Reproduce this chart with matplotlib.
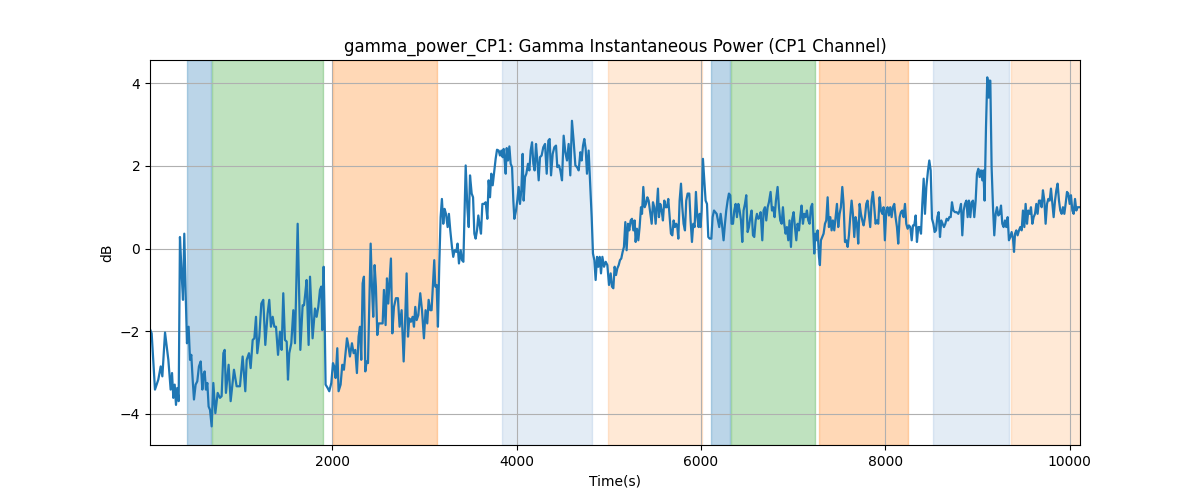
import numpy as np
import matplotlib
matplotlib.use("Agg")
import matplotlib.pyplot as plt

# time (s) and gamma power (dB)
t = [22, 40, 76, 112, 138, 156, 185, 221, 246, 261, 275, 290, 304, 318, 333, 347, 365, 380, 394, 409,
     423, 441, 456, 470, 485, 499, 517, 535, 553, 572, 590, 601, 615, 629, 644, 658, 673, 691, 709, 731,
     756, 781, 799, 818, 832, 846, 875, 897, 933, 962, 998, 1027, 1056, 1071, 1096, 1114, 1136, 1154, 1172, 1186,
     1208, 1230, 1251, 1273, 1298, 1316, 1334, 1353, 1371, 1389, 1411, 1432, 1450, 1468, 1486, 1505, 1519, 1533, 1555, 1577,
     1595, 1624, 1653, 1678, 1693, 1707, 1721, 1743, 1758, 1786, 1812, 1830, 1848, 1866, 1880, 1891, 1906, 1917, 1927, 1949,
     1967, 1989, 2007, 2021, 2036, 2054, 2068, 2090, 2108, 2126, 2144, 2159, 2173, 2191, 2213, 2231, 2249, 2267, 2285, 2300,
     2314, 2329, 2343, 2358, 2372, 2387, 2401, 2416, 2430, 2444, 2459, 2473, 2488, 2502, 2524, 2546, 2560, 2578, 2593, 2607,
     2622, 2636, 2651, 2669, 2690, 2712, 2730, 2752, 2774, 2788, 2806, 2821, 2835, 2853, 2871, 2886, 2900, 2915, 2933, 2954,
     2973, 2994, 3012, 3030, 3045, 3063, 3077, 3092, 3106, 3117, 3132, 3146, 3160, 3175, 3189, 3204, 3218, 3233, 3251, 3265,
     3280, 3298, 3312, 3327, 3345, 3359, 3374, 3393, 3407, 3422, 3447, 3465, 3480, 3494, 3512, 3527, 3541, 3555, 3570, 3584,
     3599, 3613, 3628, 3646, 3664, 3682, 3696, 3711, 3725, 3740, 3758, 3772, 3787, 3805, 3819, 3834, 3848, 3859, 3870, 3881,
     3892, 3906, 3921, 3935, 3950, 3964, 3975, 3993, 4007, 4022, 4036, 4051, 4065, 4076, 4091, 4105, 4123, 4138, 4152, 4167,
     4181, 4195, 4210, 4224, 4239, 4253, 4271, 4289, 4308, 4326, 4344, 4358, 4373, 4391, 4409, 4427, 4441, 4459, 4474, 4492,
     4510, 4528, 4546, 4564, 4582, 4600, 4618, 4637, 4655, 4673, 4691, 4705, 4720, 4734, 4749, 4763, 4781, 4799, 4814, 4828,
     4843, 4857, 4872, 4886, 4901, 4915, 4930, 4948, 4966, 4984, 5002, 5020, 5034, 5049, 5063, 5078, 5092, 5107, 5121, 5135,
     5150, 5164, 5179, 5193, 5208, 5222, 5237, 5251, 5266, 5280, 5291, 5305, 5320, 5334, 5349, 5360, 5374, 5389, 5403, 5418,
     5432, 5446, 5465, 5479, 5493, 5508, 5522, 5533, 5544, 5558, 5573, 5587, 5602, 5616, 5631, 5645, 5660, 5674, 5689, 5703,
     5718, 5732, 5743, 5754, 5768, 5783, 5797, 5811, 5826, 5840, 5855, 5873, 5887, 5902, 5916, 5931, 5945, 5960, 5974, 5985,
     5996, 6007, 6021, 6036, 6050, 6065, 6079, 6094, 6112, 6126, 6141, 6155, 6170, 6184, 6198, 6213, 6227, 6245, 6260, 6274,
     6289, 6303, 6318, 6332, 6347, 6361, 6376, 6390, 6405, 6419, 6434, 6448, 6462, 6477, 6491, 6506, 6520, 6535, 6549, 6564,
     6578, 6593, 6607, 6622, 6636, 6647, 6665, 6679, 6694, 6708, 6723, 6737, 6755, 6770, 6784, 6799, 6813, 6831, 6846, 6860,
     6875, 6889, 6903, 6918, 6932, 6947, 6961, 6976, 6990, 7005, 7019, 7034, 7048, 7063, 7077, 7091, 7106, 7120, 7135, 7149,
     7164, 7178, 7193, 7207, 7218, 7229, 7240, 7251, 7265, 7280, 7290, 7301, 7316, 7330, 7345, 7359, 7374, 7388, 7403, 7417,
     7431, 7446, 7460, 7475, 7489, 7504, 7518, 7533, 7547, 7562, 7576, 7591, 7605, 7619, 7634, 7648, 7663, 7677, 7692, 7706,
     7721, 7735, 7750, 7764, 7779, 7793, 7807, 7822, 7836, 7851, 7865, 7880, 7894, 7909, 7923, 7938, 7952, 7967, 7981, 7995,
     8010, 8024, 8039, 8053, 8068, 8082, 8097, 8111, 8126, 8140, 8155, 8169, 8184, 8198, 8213, 8227, 8242, 8256, 8271, 8286,
     8300, 8314, 8329, 8343, 8358, 8372, 8387, 8401, 8416, 8430, 8445, 8463, 8477, 8492, 8506, 8521, 8535, 8550, 8564, 8578,
     8593, 8607, 8622, 8636, 8651, 8665, 8680, 8694, 8709, 8723, 8738, 8756, 8774, 8792, 8806, 8821, 8835, 8850, 8864, 8879,
     8893, 8907, 8922, 8936, 8951, 8965, 8980, 8994, 9009, 9023, 9038, 9052, 9063, 9077, 9092, 9106, 9121, 9128, 9139, 9153,
     9168, 9182, 9197, 9211, 9226, 9240, 9255, 9269, 9283, 9298, 9312, 9327, 9341, 9356, 9370, 9385, 9396, 9407, 9421, 9435,
     9450, 9464, 9479, 9493, 9508, 9522, 9537, 9551, 9566, 9580, 9595, 9609, 9624, 9638, 9652, 9667, 9681, 9696, 9710, 9725,
     9739, 9754, 9768, 9783, 9797, 9812, 9826, 9841, 9855, 9869, 9884, 9898, 9913, 9927, 9942, 9956, 9971, 9985, 10000, 10014,
     10029, 10043, 10058, 10072, 10086, 10101, 10112]

power = [-1.95, -2.05, -3.41, -3.17, -2.85, -3.09, -2.03, -2.69, -3.41, -3.01, -3.61, -3.29, -3.78, -3.37, -3.69, 0.28, -0.60, -1.24, 0.36, -1.08,
         -2.29, -1.89, -2.69, -2.57, -3.17, -3.65, -3.29, -3.21, -2.85, -2.73, -3.41, -3.05, -2.97, -3.41, -3.25, -3.82, -3.90, -4.30, -3.25, -3.98,
         -3.49, -3.61, -3.57, -2.53, -2.45, -3.49, -2.81, -3.69, -2.93, -3.33, -3.33, -2.61, -3.45, -2.69, -2.53, -2.89, -2.21, -2.17, -1.65, -2.53,
         -2.13, -1.33, -1.24, -2.33, -1.57, -1.24, -1.89, -1.65, -1.89, -1.89, -2.57, -2.01, -2.45, -1.08, -2.21, -2.25, -3.17, -2.53, -2.29, -1.49,
         -2.29, 0.60, -2.45, -1.37, -1.37, -1.08, -0.76, -2.33, -0.68, -2.17, -1.45, -1.65, -1.41, -1.00, -0.92, -1.97, -0.44, -1.73, -3.29, -3.37,
         -3.45, -3.25, -2.77, -2.85, -3.13, -2.41, -3.45, -3.29, -2.81, -2.93, -2.53, -2.17, -2.33, -2.61, -2.29, -2.53, -2.45, -3.01, -2.13, -1.89,
         -2.69, -0.84, -0.68, -2.97, -2.73, -2.77, -1.41, 0.12, -0.92, -1.65, -0.40, -0.92, -2.09, -1.81, -1.81, -1.81, -1.00, -1.85, -0.72, -1.33,
         -0.76, -0.24, -2.05, -1.41, -1.20, -1.20, -1.89, -1.49, -2.73, -1.89, -0.60, -2.13, -1.69, -1.77, -1.65, -1.89, -1.41, -1.73, -1.61, -1.08,
         -1.49, -2.17, -1.49, -1.81, -1.24, -1.49, -1.49, -0.84, -0.28, -0.92, -0.88, -1.89, -0.44, 0.76, 1.20, 0.60, 0.96, 0.84, 0.52, 0.84,
         0.44, 0.04, -0.20, -0.04, -0.08, 0.12, -0.36, -0.04, -0.28, -0.32, 2.01, 1.00, 0.52, 1.77, 1.33, 1.24, 0.36, 0.24, 0.44, 0.80,
         0.56, 0.36, 1.08, 1.08, 1.12, 0.72, 1.65, 1.24, 1.81, 1.53, 1.89, 2.17, 2.39, 2.37, 2.25, 2.37, 2.21, 2.41, 2.13, 1.81,
         2.43, 2.13, 2.47, 2.05, 1.97, 1.16, 0.72, 0.92, 1.16, 1.49, 1.08, 1.41, 2.29, 1.16, 1.73, 1.81, 2.05, 1.89, 2.37, 2.57,
         2.05, 1.89, 2.53, 2.13, 1.65, 2.21, 2.25, 2.45, 2.53, 1.81, 2.61, 2.65, 1.77, 2.29, 2.45, 2.49, 1.97, 2.01, 1.89, 1.65,
         2.73, 2.33, 2.13, 2.53, 1.77, 3.09, 2.61, 2.01, 1.97, 1.89, 2.33, 2.13, 2.49, 2.65, 2.41, 1.81, 2.37, 1.49, 0.76, -0.12,
         -0.28, -0.76, -0.20, -0.44, -0.20, -0.60, -0.20, -0.44, -0.32, -0.40, -0.88, -0.60, -0.92, -0.96, -0.44, -0.64, -0.48, -0.40, -0.28, -0.24,
         -0.08, 0.04, 0.64, -0.04, 0.60, 0.44, 0.68, 0.72, 0.44, 0.68, 0.16, 0.48, 0.20, 0.52, 1.00, 0.84, 1.49, 1.00, 1.08, 1.24,
         1.16, 0.92, 0.60, 1.12, 1.00, 0.60, 1.08, 1.45, 0.76, 1.08, 0.92, 0.68, 1.16, 1.00, 1.00, 1.20, 0.76, 0.36, 0.32, 0.68,
         0.52, 0.60, 0.52, 0.24, 1.16, 1.57, 1.00, 0.60, 0.44, 1.16, 1.33, 1.33, 0.68, 0.16, 0.60, 0.52, 1.37, 0.76, 0.52, 0.84,
         0.52, 0.92, 2.17, 1.65, 1.16, 1.08, 0.28, 0.24, 0.24, 0.76, 0.92, 0.88, 0.84, 0.68, 0.52, 0.84, 0.60, 0.20, 0.60, 0.92,
         1.16, 1.33, 1.29, 0.60, 0.60, 0.92, 1.08, 0.76, 1.08, 0.92, 0.68, 0.16, 0.92, 1.08, 1.29, 0.40, 0.52, 0.76, 0.92, 0.32,
         0.28, 0.68, 0.84, 0.72, 0.76, 0.88, 0.20, 0.92, 1.00, 0.68, 1.00, 1.12, 1.37, 0.92, 1.00, 0.76, 1.16, 1.49, 1.00, 0.68,
         0.60, 1.00, 0.60, 0.36, 0.52, 0.20, 0.68, 0.04, 0.72, 0.88, 0.52, 0.20, 0.60, 0.44, 0.76, 1.04, 0.60, 0.84, 0.76, 0.92,
         0.68, 0.60, 1.00, 1.08, 0.44, -0.12, 0.36, 0.20, 0.44, -0.20, -0.40, 0.20, 0.28, 0.36, 0.60, 0.68, 1.24, 0.52, 0.76, 0.44,
         0.68, 0.44, 0.76, 1.08, 0.52, 0.84, 1.00, 1.49, 1.08, 0.16, 0.20, 0.04, 0.32, 0.76, 1.16, 0.84, 0.28, 0.76, 0.60, 0.12,
         1.08, 0.84, 0.68, 0.56, 0.76, 1.08, 1.16, 0.84, 0.52, 1.16, 1.37, 1.00, 0.60, 0.68, 0.60, 1.24, 0.92, 0.84, 1.00, 0.20,
         0.92, 1.00, 0.80, 1.00, 0.76, 1.00, 1.08, 0.76, 0.52, 0.12, 0.76, 0.88, 0.92, 0.76, 1.08, 0.60, 0.48, 0.56, 0.52, 0.20,
         0.56, 0.56, 0.80, 0.16, 0.52, 0.52, 0.36, 1.08, 1.69, 0.84, 1.49, 1.89, 2.13, 1.89, 0.72, 0.60, 0.40, 0.44, 0.76, 0.88,
         0.28, 0.68, 0.60, 0.52, 0.60, 0.72, 0.68, 0.76, 0.76, 1.12, 0.92, 0.88, 0.88, 0.84, 0.92, 1.08, 0.32, 0.92, 1.08, 1.16,
         0.76, 1.16, 0.76, 1.12, 1.16, 0.76, 1.16, 1.81, 1.93, 1.73, 1.89, 1.65, 1.89, 1.16, 2.93, 4.14, 3.65, 4.06, 4.06, 1.97,
         1.00, 0.32, 0.84, 1.00, 0.80, 0.84, 1.04, 0.60, 0.52, 0.68, 0.52, 0.76, 0.20, 0.28, 0.40, 0.24, -0.08, 0.36, 0.44, 0.32,
         0.44, 0.52, 0.44, 0.92, 0.52, 1.08, 0.60, 0.92, 0.84, 1.00, 0.60, 0.76, 0.84, 1.08, 0.84, 1.16, 1.16, 1.00, 1.41, 1.16,
         0.60, 1.08, 1.20, 1.16, 1.45, 1.08, 0.76, 1.16, 1.41, 1.57, 1.16, 0.92, 0.84, 1.00, 0.84, 1.08, 1.37, 1.33, 1.08, 1.29,
         0.92, 0.84, 1.20, 0.92, 1.00, 1.00, 1.00]

# shaded epochs: start, end, colour, alpha
span_start = [423, 691, 2011, 3841, 4991, 6108, 6325, 7276, 8517, 9363]
span_end = [684, 1902, 3132, 4814, 6007, 6311, 7238, 8249, 9345, 10112]
span_color = ['tab:blue', 'tab:green', 'tab:orange', '#1f64b4', 'tab:orange',
              'tab:blue', 'tab:green', 'tab:orange', '#1f64b4', 'tab:orange']
span_alpha = [0.3, 0.3, 0.3, 0.12, 0.17, 0.3, 0.3, 0.3, 0.12, 0.17]

fig, ax = plt.subplots(figsize=(12, 5), dpi=100)

for s, e, c, a in zip(span_start, span_end, span_color, span_alpha):
    ax.axvspan(s, e, color=c, alpha=a)

ax.plot(t, power, color='tab:blue', linewidth=1.6)

ax.set_xlim(t[0], t[-1])
ax.set_ylim(-4.75, 4.56)
ax.set_title('gamma_power_CP1: Gamma Instantaneous Power (CP1 Channel)')
ax.set_xlabel('Time(s)')
ax.set_ylabel('dB')
ax.grid(True)

fig.savefig('out.png')
